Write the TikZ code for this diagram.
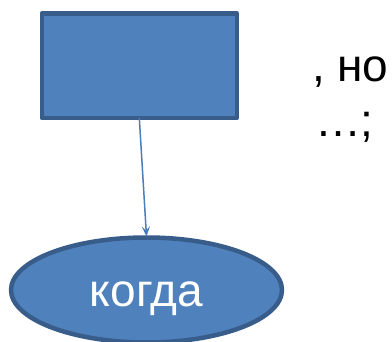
\documentclass[tikz,border=0pt]{standalone}
\usepackage{fontspec}
\setmainfont{Liberation Sans}
\usetikzlibrary{arrows.meta,shapes.geometric}
\definecolor{shapefill}{HTML}{4F81BD}
\definecolor{shapeline}{HTML}{385D8A}
\definecolor{connline}{HTML}{4A7EBB}
\tikzset{
  shapebox/.style={draw=shapeline, fill=shapefill, line width=4.5pt, line join=round, inner sep=0pt, outer sep=0pt},
  bigtext/.style={font=\fontsize{46}{55}\selectfont, inner sep=0pt, outer sep=0pt},
  conn/.style={draw=connline, line width=1.5pt, -{Stealth[length=10pt,width=8pt,inset=4pt]}}
}
\begin{document}
\begin{tikzpicture}[x=1pt,y=-1pt]
\useasboundingbox (0,0) rectangle (392,342);
\node[shapebox, rectangle, minimum width=195pt, minimum height=104.5pt] (box) at (139.3,65.6) {};
\node[shapebox, ellipse, minimum width=271pt, minimum height=105pt] (ell) at (146.5,290) {};
\node[bigtext, text=white, anchor=base] (lbl) at ([yshift=-17pt]ell.center) {когда};
\draw[conn] (box.south) -- ([yshift=1pt]ell.north);
\node[bigtext, anchor=base west] (t1) at (312,82) {, но};
\node[bigtext, anchor=base west] (t2) at (315,137) {…;};
\end{tikzpicture}
\end{document}
